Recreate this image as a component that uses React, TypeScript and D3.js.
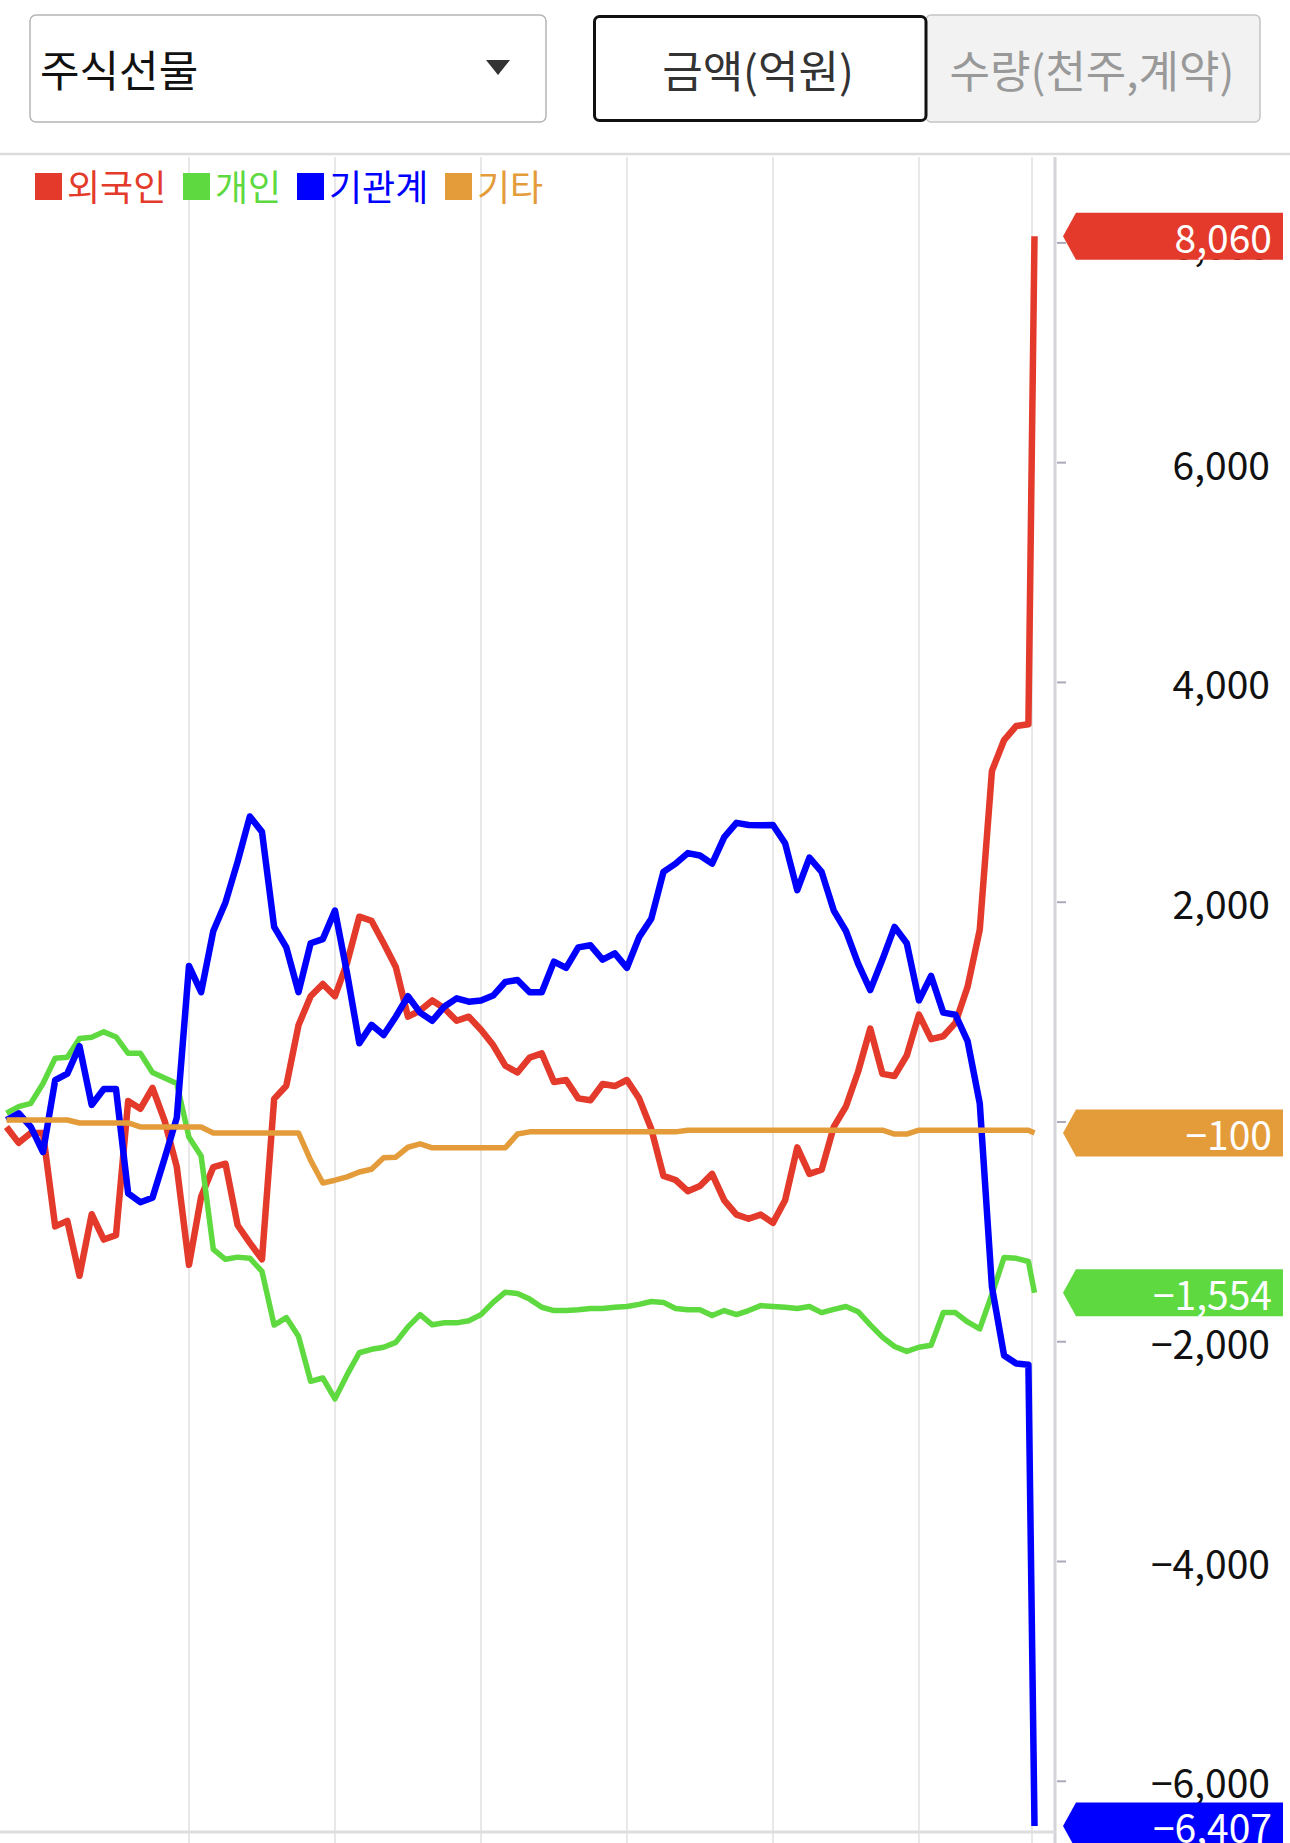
import React from 'react';
import * as d3 from 'd3';

const W = 1290;
const H = 1843;
const FONT = '"Noto Sans CJK KR", "Noto Sans", sans-serif';

// minutes since the 08:45 open, one sample every 5 minutes plus the closing print
const minutes = [
  0, 5, 10, 15, 20, 25, 30, 35, 40, 45, 50, 55, 60, 65, 70, 75, 80, 85, 90, 95,
  100, 105, 110, 115, 120, 125, 130, 135, 140, 145, 150, 155, 160, 165, 170, 175, 180, 185, 190, 195,
  200, 205, 210, 215, 220, 225, 230, 235, 240, 245, 250, 255, 260, 265, 270, 275, 280, 285, 290, 295,
  300, 305, 310, 315, 320, 325, 330, 335, 340, 345, 350, 355, 360, 365, 370, 375, 380, 385, 390, 395,
  400, 405, 410, 415, 420, 422.5,
];

// 외국인
const foreign = [
  -45, -190, -100, -100, -950, -900, -1400, -840, -1070, -1030,
  190, 120, 310, 10, -410, -1300, -680, -410, -380, -940,
  -1100, -1250, 210, 330, 880, 1144, 1255, 1144, 1450, 1868,
  1831, 1626, 1411, 958, 1014, 1106, 1032, 921, 958, 839,
  700, 512, 450, 586, 624, 364, 382, 215, 197, 345,
  327, 382, 215, -64, -491, -528, -630, -583, -472, -713,
  -843, -881, -843, -918, -713, -231, -472, -435, -45, 141,
  457, 850, 438, 419, 605, 977, 754, 780, 902, 1230,
  1750, 3194, 3476, 3604, 3620, 8060,
];

// 개인
const individual = [
  80, 140, 170, 350, 580, 590, 760, 770, 820, 774,
  625, 625, 450, 400, 350, -140, -310, -1160, -1250, -1230,
  -1240, -1360, -1848, -1780, -1950, -2360, -2330, -2520, -2300, -2100,
  -2069, -2050, -2006, -1865, -1753, -1846, -1828, -1828, -1809, -1753,
  -1642, -1549, -1560, -1612, -1686, -1716, -1716, -1709, -1697, -1697,
  -1686, -1679, -1660, -1634, -1642, -1697, -1709, -1709, -1761, -1716,
  -1753, -1716, -1671, -1679, -1686, -1697, -1679, -1735, -1705, -1679,
  -1727, -1846, -1958, -2043, -2088, -2050, -2032, -1735, -1735, -1820,
  -1883, -1568, -1233, -1241, -1270, -1554,
];

// 기관계
const institution = [
  18, 79, -45, -273, 380, 440, 690, 155, 300, 300,
  -650, -730, -690, -330, 40, 1420, 1181, 1738, 1998, 2369,
  2780, 2640, 1775, 1589, 1181, 1626, 1664, 1924, 1350, 717,
  884, 791, 958, 1144, 995, 921, 1051, 1125, 1095, 1106,
  1150, 1274, 1292, 1181, 1181, 1459, 1403, 1589, 1608, 1478,
  1534, 1403, 1682, 1849, 2276, 2351, 2447, 2425, 2351, 2592,
  2722, 2703, 2700, 2703, 2536, 2109, 2406, 2276, 1924, 1738,
  1441, 1200, 1478, 1775, 1626, 1106, 1329, 995, 976, 735,
  170, -1500, -2125, -2199, -2210, -6407,
];

// 기타
const others = [
  18, 18, 18, 18, 18, 18, -9, -9, -9, -9,
  -9, -45, -45, -45, -45, -45, -45, -100, -100, -100,
  -100, -100, -100, -100, -100, -350, -555, -530, -500, -455,
  -430, -325, -320, -230, -200, -235, -235, -235, -235, -235,
  -235, -235, -110, -90, -90, -90, -90, -90, -90, -90,
  -90, -90, -90, -90, -90, -90, -75, -75, -75, -75,
  -75, -75, -75, -75, -75, -75, -75, -75, -75, -75,
  -75, -75, -75, -110, -110, -75, -75, -75, -75, -75,
  -75, -75, -75, -75, -75, -100,
];

const seriesNames = ['외국인', '개인', '기관계', '기타'];
const seriesColors = ['#e33a2b', '#5ed93f', '#0000ff', '#e49c3a'];
const seriesWidths = [6.5, 5.5, 6.5, 5.5];
const yTicks = [8000, 6000, 4000, 2000, 0, -2000, -4000, -6000];
const gridMinutes = [75, 135, 195, 255, 315, 375, 421.5];

export default function App() {
  const series = [foreign, individual, institution, others];
  const all = series.flat();

  const x = d3.scaleLinear().domain([0, 422.5]).range([6.5, 1034.5]);
  const y = d3.scaleLinear()
    .domain([d3.min(all) as number, d3.max(all) as number])
    .range([1826, 236.3]);
  const fmt = d3.format(',');

  const lineGen = d3.line<number>()
    .x((_, i) => x(minutes[i]))
    .y(v => y(v));

  const axisX = 1055;
  const badgeRight = 1283;

  // legend layout
  let lx = 35;
  const legend = seriesNames.map((name, i) => {
    const item = { name, color: seriesColors[i], sq: lx, tx: lx + 33 };
    lx = lx + 33 + name.length * 34 + 13;
    return item;
  });

  const badgeOrder = [0, 3, 1, 2];

  return (
    <svg
      width={W}
      height={H}
      style={{ position: 'absolute', left: 0, top: 0, background: '#fff' }}
      fontFamily={FONT}
    >
      <rect x={0} y={0} width={W} height={H} fill="#fff" />

      {/* dropdown */}
      <rect x={30} y={15} width={516} height={107} rx={6} fill="#fff" stroke="#b5b5b5" strokeWidth={1.5} />
      <text x={40} y={68} fontSize={43} fill="#111" dominantBaseline="central">주식선물</text>
      <polygon points="486,60 510,60 498,75" fill="#333" />

      {/* toggle buttons */}
      <rect x={926} y={15} width={334} height={107} rx={5} fill="#f2f2f2" stroke="#c4c4c4" strokeWidth={1.5} />
      <rect x={594.5} y={16.5} width={331.5} height={104} rx={5} fill="#fff" stroke="#111" strokeWidth={3} />
      <text x={758} y={69} fontSize={44} fill="#333" textAnchor="middle" dominantBaseline="central">금액(억원)</text>
      <text x={1092} y={69} fontSize={44} fill="#999" textAnchor="middle" dominantBaseline="central">수량(천주,계약)</text>

      <line x1={0} x2={W} y1={154} y2={154} stroke="#dcdcdc" strokeWidth={2.5} />

      {/* grid */}
      {gridMinutes.map(m => (
        <line key={m} x1={x(m)} x2={x(m)} y1={157} y2={H} stroke="#e8e8e8" strokeWidth={2} />
      ))}
      <line x1={axisX} x2={axisX} y1={157} y2={H} stroke="#d4d4da" strokeWidth={3} />
      <line x1={0} x2={axisX} y1={1832} y2={1832} stroke="#dedede" strokeWidth={3} />

      {/* y axis ticks and labels */}
      {yTicks.map(t => (
        <g key={t}>
          <line x1={axisX + 2} x2={axisX + 11} y1={y(t)} y2={y(t)} stroke="#aab" strokeWidth={2} />
          <text x={1270} y={y(t)} fontSize={39} fill="#111" textAnchor="end" dominantBaseline="central">
            {fmt(t)}
          </text>
        </g>
      ))}

      {/* legend */}
      {legend.map(l => (
        <g key={l.name}>
          <rect x={l.sq} y={173} width={27} height={27} fill={l.color} />
          <text x={l.tx - 1} y={185} fontSize={36} fill={l.color} dominantBaseline="central">{l.name}</text>
        </g>
      ))}

      {/* series lines */}
      {series.map((vals, i) => (
        <path
          key={seriesNames[i]}
          d={lineGen(vals) || ''}
          fill="none"
          stroke={seriesColors[i]}
          strokeWidth={seriesWidths[i]}
          strokeLinejoin="round"
          strokeLinecap="butt"
        />
      ))}

      {/* last value badges */}
      {badgeOrder.map(i => {
        const v = series[i][series[i].length - 1];
        const cy = y(v);
        const pts = [
          [1063, cy], [1076, cy - 23.5], [badgeRight, cy - 23.5],
          [badgeRight, cy + 23.5], [1076, cy + 23.5],
        ].map(p => p.join(',')).join(' ');
        return (
          <g key={'b' + i}>
            <polygon points={pts} fill={seriesColors[i]} />
            <text x={1272} y={cy} fontSize={39} fill="#fff" textAnchor="end" dominantBaseline="central">
              {fmt(v)}
            </text>
          </g>
        );
      })}
    </svg>
  );
}
